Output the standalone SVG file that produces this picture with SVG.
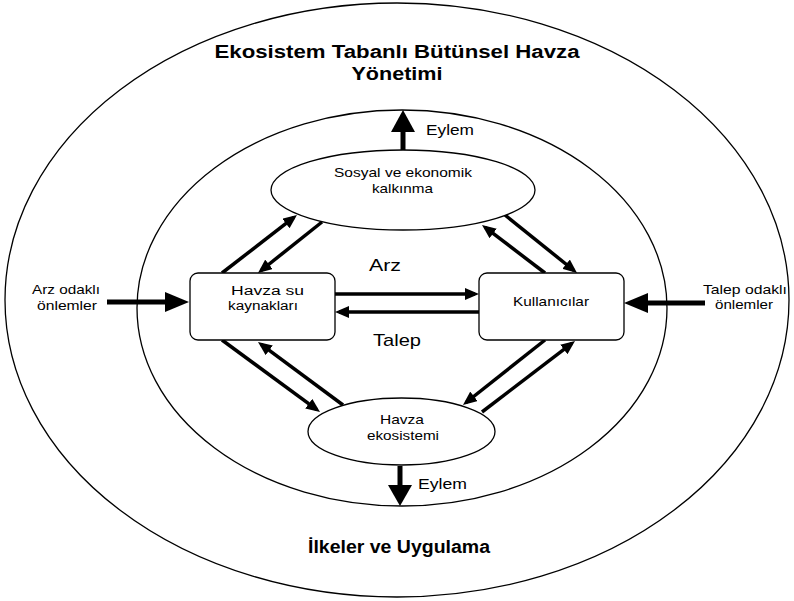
<svg xmlns="http://www.w3.org/2000/svg" width="794" height="601" viewBox="0 0 794 601">
<style>
.ring{fill:none;stroke:#000;stroke-width:1.3}
.node{fill:#fff;stroke:#000;stroke-width:1.3}
.t{font-family:"Liberation Sans",Arial,sans-serif;fill:#000;text-anchor:middle}
.n{font-size:13px}
.s{font-size:12px}
.title{font-size:18px;font-weight:bold}
.lbl{font-size:17px}
.ey{font-size:14px;text-anchor:start}
.c{stroke:#000;stroke-width:3.5;fill:none;marker-end:url(#ah)}
.big{stroke:#000;stroke-width:5;fill:none}
</style>
<defs>
<marker id="ah" markerUnits="userSpaceOnUse" markerWidth="14" markerHeight="12" refX="10" refY="6" orient="auto">
<path d="M0,0 L14,6 L0,12 z" fill="#000"/>
</marker>
</defs>
<rect width="794" height="601" fill="#fff"/>
<g id="outer-ring"><ellipse class="ring" cx="397" cy="300" rx="392" ry="297"/></g>
<g id="inner-ring"><ellipse class="ring" cx="402" cy="308" rx="265" ry="198"/></g>
<g id="title">
<text class="t title" x="397" y="58" textLength="365" lengthAdjust="spacingAndGlyphs">Ekosistem Tabanlı Bütünsel Havza</text>
<text class="t title" x="397" y="80" textLength="91" lengthAdjust="spacingAndGlyphs">Yönetimi</text>
</g>
<g id="footer"><text class="t title" x="399" y="553" textLength="182" lengthAdjust="spacingAndGlyphs">İlkeler ve Uygulama</text></g>
<g id="connectors">
<line class="c" x1="222" y1="273" x2="293.8" y2="217.4"/>
<line class="c" x1="322" y1="222" x2="261.1" y2="270.5"/>
<line class="c" x1="505" y1="215" x2="573.9" y2="270.5"/>
<line class="c" x1="545" y1="273" x2="485.2" y2="227.4"/>
<line class="c" x1="222" y1="340" x2="316.8" y2="409.6"/>
<line class="c" x1="343" y1="405" x2="261.2" y2="344.4"/>
<line class="c" x1="545" y1="340" x2="466.1" y2="402.5"/>
<line class="c" x1="482" y1="412" x2="571.8" y2="343.4"/>
<line class="c" x1="335" y1="294" x2="475" y2="294"/>
<line class="c" x1="479" y1="312" x2="339" y2="312"/>
<line class="big" x1="107" y1="302" x2="167" y2="302"/>
<polygon points="165,292 189,302 165,312" fill="#000"/>
<line class="big" x1="705" y1="303" x2="646" y2="303"/>
<polygon points="648,293 624,303 648,313" fill="#000"/>
<line class="big" x1="403" y1="150" x2="403" y2="130"/>
<polygon points="391,132 403,110 415,132" fill="#000"/>
<line class="big" x1="400" y1="466" x2="400" y2="487"/>
<polygon points="388,485 400,506 412,485" fill="#000"/>
</g>
<g id="n-sosyal">
<ellipse class="node" cx="403" cy="190" rx="132" ry="40"/>
<text class="t n" x="403" y="177" textLength="138" lengthAdjust="spacingAndGlyphs">Sosyal ve ekonomik</text>
<text class="t n" x="402.5" y="193" textLength="61" lengthAdjust="spacingAndGlyphs">kalkınma</text>
</g>
<g id="n-havza-su">
<rect class="node" x="190" y="273" width="145" height="67" rx="8"/>
<text class="t s" x="267.5" y="295" textLength="73" lengthAdjust="spacingAndGlyphs">Havza su</text>
<text class="t s" x="263" y="310" textLength="70" lengthAdjust="spacingAndGlyphs">kaynakları</text>
</g>
<g id="n-kullanicilar">
<rect class="node" x="479" y="273" width="145" height="67" rx="8"/>
<text class="t n" x="551" y="306" textLength="76" lengthAdjust="spacingAndGlyphs">Kullanıcılar</text>
</g>
<g id="n-ekosistem">
<ellipse class="node" cx="401.5" cy="431.5" rx="93.5" ry="33.5"/>
<text class="t n" x="402" y="424" textLength="44" lengthAdjust="spacingAndGlyphs">Havza</text>
<text class="t n" x="403" y="440" textLength="72" lengthAdjust="spacingAndGlyphs">ekosistemi</text>
</g>
<g id="labels">
<text class="t lbl" x="385" y="271" textLength="32" lengthAdjust="spacingAndGlyphs">Arz</text>
<text class="t lbl" x="397" y="346" textLength="48" lengthAdjust="spacingAndGlyphs">Talep</text>
<text class="t ey" x="426" y="135" textLength="48" lengthAdjust="spacingAndGlyphs">Eylem</text>
<text class="t ey" x="418" y="489" textLength="49" lengthAdjust="spacingAndGlyphs">Eylem</text>
<text class="t n" x="66" y="294" textLength="68" lengthAdjust="spacingAndGlyphs">Arz odaklı</text>
<text class="t n" x="67" y="310" textLength="60" lengthAdjust="spacingAndGlyphs">önlemler</text>
<text class="t n" x="745" y="294" textLength="84" lengthAdjust="spacingAndGlyphs">Talep odaklı</text>
<text class="t n" x="744" y="309" textLength="58" lengthAdjust="spacingAndGlyphs">önlemler</text>
</g>
</svg>
